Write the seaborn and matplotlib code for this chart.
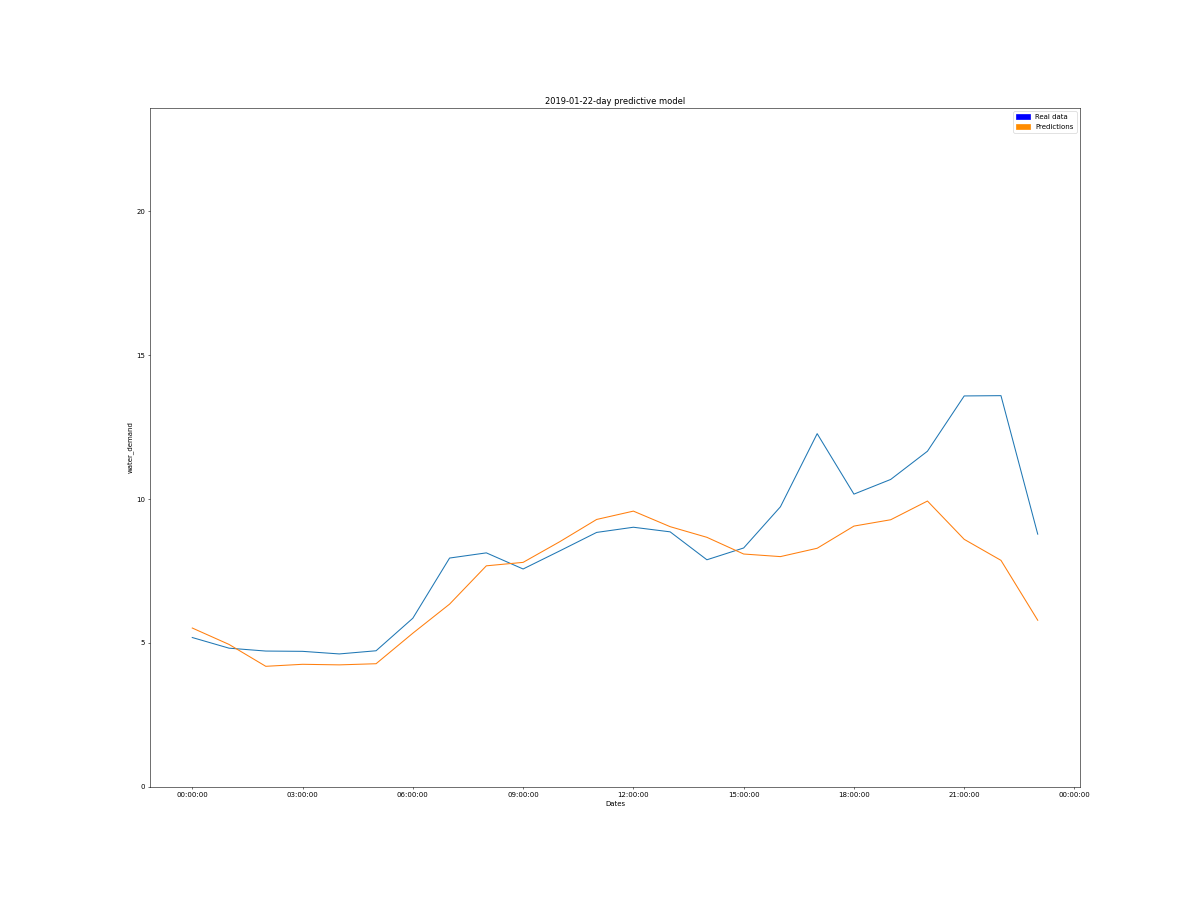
import matplotlib
matplotlib.use("Agg")
import matplotlib.pyplot as plt
import matplotlib.dates as mdates
import matplotlib.patches as mpatches
import seaborn as sns
import pandas as pd

hours = pd.date_range("2019-01-22 00:00:00", periods=24, freq="h")
real_data = [5.19, 4.82, 4.72, 4.71, 4.62, 4.73, 5.86, 7.95, 8.13, 7.57, 8.20, 8.84,
             9.02, 8.86, 7.89, 8.30, 9.73, 12.27, 10.17, 10.68, 11.66, 13.58, 13.59, 8.78]
predictions = [5.52, 4.95, 4.19, 4.26, 4.24, 4.28, 5.34, 6.35, 7.68, 7.80, 8.52, 9.29,
               9.58, 9.04, 8.67, 8.09, 8.00, 8.29, 9.06, 9.28, 9.93, 8.60, 7.87, 5.79]
title = "2019-01-22-day predictive model"
legend_labels = ["Real data", "Predictions"]

df = pd.DataFrame({"Dates": hours, "real": real_data, "pred": predictions})

fig = plt.figure(figsize=(24, 18), dpi=50)
ax = fig.add_subplot(111)
fig.subplots_adjust(left=0.125, right=0.9, top=0.88, bottom=0.1256)

sns.lineplot(data=df, x="Dates", y="real", ax=ax, color="tab:blue", linewidth=1.5)
sns.lineplot(data=df, x="Dates", y="pred", ax=ax, color="tab:orange", linewidth=1.5)

ax.set_ylim(0, 23.58)
ax.set_yticks([0, 5, 10, 15, 20])
ax.xaxis.set_major_locator(mdates.HourLocator(interval=3))
ax.xaxis.set_major_formatter(mdates.DateFormatter("%H:%M:%S"))
ax.set_xlabel("Dates")
ax.set_ylabel("water_demand")
ax.set_title(title)

handles = [mpatches.Patch(color="blue", label=legend_labels[0]),
           mpatches.Patch(color="darkorange", label=legend_labels[1])]
ax.legend(handles=handles, loc="upper right")

fig.savefig("out.png", dpi=50)
